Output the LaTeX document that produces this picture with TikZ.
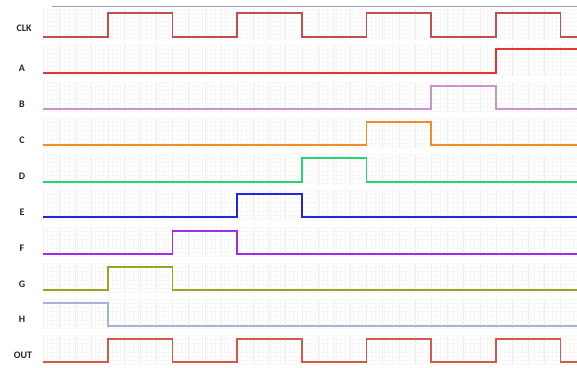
\documentclass[tikz,border=0pt]{standalone}
\usepackage{fontspec}
\setmainfont{Carlito}
\definecolor{cclk}{RGB}{192,80,77}
\definecolor{ca}{RGB}{232,52,52}
\definecolor{cb}{RGB}{204,146,204}
\definecolor{cc}{RGB}{242,140,40}
\definecolor{cd}{RGB}{44,210,112}
\definecolor{ce}{RGB}{36,36,228}
\definecolor{cf}{RGB}{162,44,232}
\definecolor{cg}{RGB}{160,160,34}
\definecolor{ch}{RGB}{164,180,212}
\definecolor{cout}{RGB}{212,90,70}
\definecolor{topln}{RGB}{150,160,185}
\begin{document}
\begin{tikzpicture}[x=1pt,y=-1pt,
  sig/.style={line width=1.6pt, line join=miter},
  lbl/.style={font=\fontsize{10}{11}\selectfont\bfseries, text=black!85, anchor=center},
  minorgrid/.style={draw=black!3, line width=0.3pt},
  majorgrid/.style={draw=black!7, line width=0.4pt}]
\useasboundingbox (0,0) rectangle (577,367);
\fill[white] (0,0) rectangle (577,367);
\draw[topln, line width=0.8pt] (52,6) -- (577,6);
% grid bands
\foreach \yh/\yl in {13/37,49/73,86/109,122/145,158/182,194/217,231/254,267/290,303/326,339/362}{
  \pgfmathsetmacro{\ya}{\yh-4}
  \pgfmathsetmacro{\yb}{\yl+3}
  \foreach \k in {0,...,123}{
    \pgfmathsetmacro{\xx}{43+4.3125*\k}
    \draw[minorgrid] (\xx,\ya) -- (\xx,\yb);
  }
  \foreach \k in {0,...,33}{
    \pgfmathsetmacro{\xx}{43+16.175*\k}
    \draw[majorgrid] (\xx,\ya) -- (\xx,\yb);
  }
  \foreach \j in {0,...,7}{
    \pgfmathsetmacro{\yy}{\ya+4.2*\j}
    \draw[minorgrid] (43,\yy) -- (577,\yy);
  }
}
% labels
\node[lbl] (lclk) at (24,28) {CLK};
\node[lbl] (la) at (22,68) {A};
\node[lbl] (lb) at (22,104) {B};
\node[lbl] (lc) at (22,140) {C};
\node[lbl] (ld) at (22,176) {D};
\node[lbl] (le) at (22,212) {E};
\node[lbl] (lf) at (22,248) {F};
\node[lbl] (lg) at (22,284) {G};
\node[lbl] (lh) at (22,319) {H};
\node[lbl] (lout) at (23,355) {OUT};
% signals
\draw[sig, cclk] (43,37) -- (107.7,37) |- (172.4,13) |- (237.1,37) |- (301.8,13) |- (366.5,37) |- (431.2,13) |- (495.9,37) |- (560.6,13) |- (577,37);
\draw[sig, ca] (43,73) -- (495.9,73) |- (577,49);
\draw[sig, cb] (43,109) -- (431.2,109) |- (495.9,86) |- (577,109);
\draw[sig, cc] (43,145) -- (366.5,145) |- (431.2,122) |- (577,145);
\draw[sig, cd] (43,182) -- (301.8,182) |- (366.5,158) |- (577,182);
\draw[sig, ce] (43,217) -- (237.1,217) |- (301.8,194) |- (577,217);
\draw[sig, cf] (43,254) -- (172.4,254) |- (237.1,231) |- (577,254);
\draw[sig, cg] (43,290) -- (107.7,290) |- (172.4,267) |- (577,290);
\draw[sig, ch] (43,303) -- (107.7,303) |- (577,326);
\draw[sig, cout] (43,362) -- (107.7,362) |- (172.4,339) |- (237.1,362) |- (301.8,339) |- (366.5,362) |- (431.2,339) |- (495.9,362) |- (560.6,339) |- (577,362);
\end{tikzpicture}
\end{document}
